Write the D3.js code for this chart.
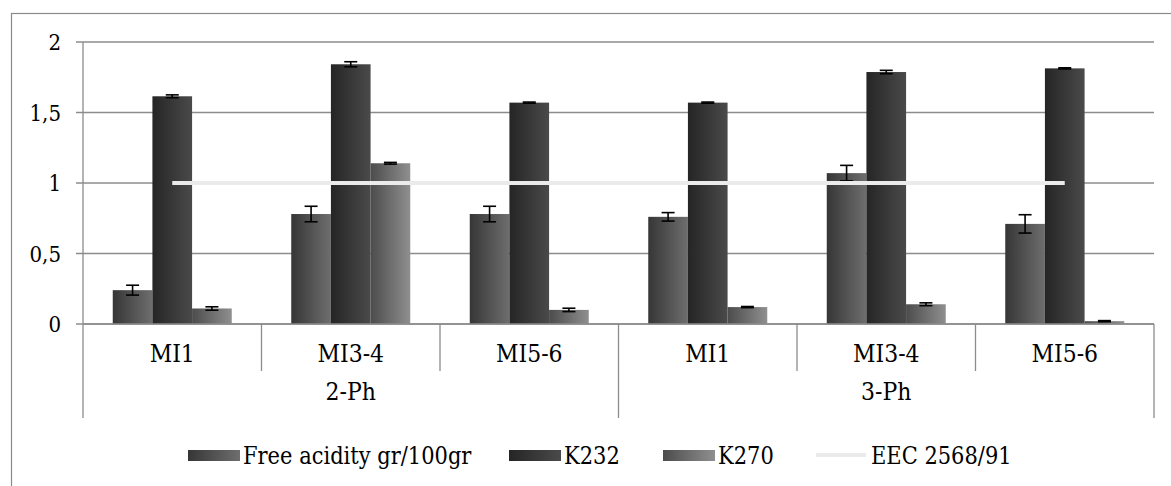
<!DOCTYPE html>
<html lang="en">
<head>
    <meta charset="UTF-8">
    <title>Free acidity, K232, K270</title>
    <script src="https://d3js.org/d3.v7.min.js"></script>
    <style>
        body { margin: 0; background: #fff; }
        text { font-family: "DejaVu Serif", serif; fill: #000; }
    </style>
</head>
<body>
    <svg id="chart"></svg>

    <script>
        // categories (inner level) and processes (outer level)
        const categories = ["MI1", "MI3-4", "MI5-6", "MI1", "MI3-4", "MI5-6"];
        const groups = ["2-Ph", "3-Ph"];
        const seriesNames = ["Free acidity gr/100gr", "K232", "K270"];

        const freeAcidity = [0.24, 0.78, 0.78, 0.76, 1.07, 0.71];
        const freeAcidityErr = [0.035, 0.055, 0.055, 0.03, 0.055, 0.065];
        const k232 = [1.615, 1.842, 1.57, 1.57, 1.787, 1.813];
        const k232Err = [0.01, 0.018, 0.004, 0.004, 0.012, 0.004];
        const k270 = [0.11, 1.14, 0.10, 0.12, 0.14, 0.02];
        const k270Err = [0.012, 0.006, 0.012, 0.004, 0.01, 0.004];

        const limitName = "EEC 2568/91";
        const limitValue = 1;
        const yTicks = [0, 0.5, 1, 1.5, 2];

        const width = 1171, height = 486;
        const margin = { left: 83, right: 17, top: 42, bottom: 162 };

        const svg = d3.select("#chart")
            .attr("width", width).attr("height", height);

        // DejaVu Serif runs wider than the Times face of the original, squeeze it a bit
        function squeeze(sel, k = 0.86) {
            sel.each(function () {
                const w = this.getComputedTextLength();
                d3.select(this).attr("textLength", w * k).attr("lengthAdjust", "spacingAndGlyphs");
            });
        }

        const defs = svg.append("defs");
        const gradients = [
            ["#363636", "#6e6e6e"],
            ["#252525", "#4a4a4a"],
            ["#4c4c4c", "#8f8f8f"]
        ];
        gradients.forEach((g, i) => {
            const lg = defs.append("linearGradient").attr("id", "grad" + i)
                .attr("x1", "0%").attr("x2", "100%").attr("y1", "0%").attr("y2", "0%");
            lg.append("stop").attr("offset", "0%").attr("stop-color", g[0]);
            lg.append("stop").attr("offset", "100%").attr("stop-color", g[1]);
        });

        // outer frame (right and bottom edges fall outside the picture)
        svg.append("rect")
            .attr("x", 11.5).attr("y", 13.5)
            .attr("width", width + 20).attr("height", height + 20)
            .attr("fill", "none").attr("stroke", "#8a8a8a").attr("stroke-width", 1.2);

        const x = d3.scaleBand()
            .domain(d3.range(categories.length))
            .range([margin.left, width - margin.right])
            .padding(0);

        const xs = d3.scaleBand()
            .domain(d3.range(seriesNames.length))
            .range([0, x.bandwidth()])
            .paddingInner(0)
            .paddingOuter(0.75);

        const y = d3.scaleLinear().domain([0, 2]).range([324, margin.top]);

        // gridlines
        svg.append("g").selectAll("line").data(yTicks).join("line")
            .attr("x1", margin.left - 7).attr("x2", width - margin.right)
            .attr("y1", d => y(d)).attr("y2", d => y(d))
            .attr("stroke", "#8c8c8c").attr("stroke-width", 1.3);

        // y tick labels
        const fmt = d => String(d).replace(".", ",");
        svg.append("g").selectAll("text").data(yTicks).join("text")
            .attr("x", 61).attr("y", d => y(d) + 8)
            .attr("text-anchor", "end")
            .style("font-size", "22px")
            .text(fmt)
            .call(squeeze, 0.9);

        // bars
        const series = [freeAcidity, k232, k270];
        const errors = [freeAcidityErr, k232Err, k270Err];
        const barData = [];
        series.forEach((vals, s) => vals.forEach((v, c) =>
            barData.push({ s, c, v, e: errors[s][c] })));

        svg.append("g").selectAll("rect").data(barData).join("rect")
            .attr("x", d => x(d.c) + xs(d.s))
            .attr("width", xs.bandwidth())
            .attr("y", d => y(d.v))
            .attr("height", d => y(0) - y(d.v))
            .attr("fill", d => `url(#grad${d.s})`);

        // error bars
        const eg = svg.append("g").attr("stroke", "#000").attr("stroke-width", 1.6);
        barData.forEach(d => {
            const cx = x(d.c) + xs(d.s) + xs.bandwidth() / 2;
            eg.append("line").attr("x1", cx).attr("x2", cx)
                .attr("y1", y(d.v + d.e)).attr("y2", y(d.v - d.e));
            [d.v + d.e, d.v - d.e].forEach(val => {
                eg.append("line").attr("x1", cx - 6.5).attr("x2", cx + 6.5)
                    .attr("y1", y(val)).attr("y2", y(val));
            });
        });

        // limit line
        svg.append("line")
            .attr("x1", x(0) + x.bandwidth() / 2)
            .attr("x2", x(categories.length - 1) + x.bandwidth() / 2)
            .attr("y1", y(limitValue)).attr("y2", y(limitValue))
            .attr("stroke", "#ebebeb").attr("stroke-width", 4);

        // category axis
        const ax = svg.append("g").attr("stroke", "#8c8c8c").attr("stroke-width", 1.3);
        ax.append("line").attr("x1", margin.left).attr("x2", margin.left)
            .attr("y1", y(2)).attr("y2", y(0));
        ax.append("line").attr("x1", margin.left).attr("x2", width - margin.right)
            .attr("y1", y(0)).attr("y2", y(0));
        d3.range(categories.length + 1).forEach(i => {
            const xp = i < categories.length ? x(i) : x(i - 1) + x.bandwidth();
            const outer = i % 3 === 0;
            ax.append("line").attr("x1", xp).attr("x2", xp)
                .attr("y1", y(0)).attr("y2", outer ? 418 : 371);
        });

        svg.append("g").selectAll("text").data(categories).join("text")
            .attr("x", (d, i) => x(i) + x.bandwidth() / 2)
            .attr("y", 362)
            .attr("text-anchor", "middle")
            .style("font-size", "25px")
            .text(d => d)
            .call(squeeze, 0.88);

        svg.append("g").selectAll("text").data(groups).join("text")
            .attr("x", (d, i) => x(i * 3) + x.bandwidth() * 1.5)
            .attr("y", 400)
            .attr("text-anchor", "middle")
            .style("font-size", "25px")
            .text(d => d)
            .call(squeeze, 0.88);

        // legend
        const legendItems = [
            { name: seriesNames[0], x: 188, type: 0 },
            { name: seriesNames[1], x: 509, type: 1 },
            { name: seriesNames[2], x: 663, type: 2 },
            { name: limitName, x: 816, type: "line" }
        ];
        const lg = svg.append("g");
        legendItems.forEach(it => {
            if (it.type === "line") {
                lg.append("line").attr("x1", it.x).attr("x2", it.x + 50)
                    .attr("y1", 455).attr("y2", 455)
                    .attr("stroke", "#ebebeb").attr("stroke-width", 4);
            } else {
                lg.append("rect").attr("x", it.x).attr("y", 450)
                    .attr("width", 52).attr("height", 11)
                    .attr("fill", `url(#grad${it.type})`);
            }
            lg.append("text").attr("x", it.x + 55).attr("y", 464)
                .style("font-size", "25px")
                .text(it.name)
                .call(squeeze, 0.84);
        });
    </script>
</body>
</html>
